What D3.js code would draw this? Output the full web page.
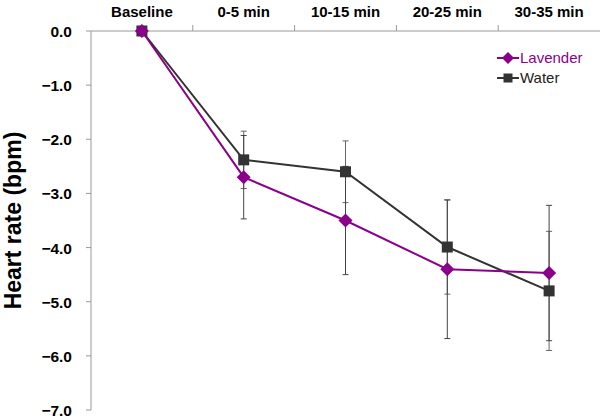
<!DOCTYPE html>
<html><head><meta charset="utf-8">
<script src="https://cdn.jsdelivr.net/npm/d3@7"></script>
<style>body{margin:0;background:#fff}text{font-family:Arial,"Liberation Sans",sans-serif}</style>
</head><body><svg id="c" width="600" height="420"></svg>
<script>
var categories = ["Baseline", "0-5 min", "10-15 min", "20-25 min", "30-35 min"];
var lavender = [0, -2.7, -3.5, -4.4, -4.47];
var lavenderErr = [0, 0.77, 1.0, 1.28, 1.25];
var water = [0, -2.38, -2.6, -3.99, -4.8];
var waterErr = [0, 0.53, 0.57, 0.87, 1.1];
var yTicks = [0, -1, -2, -3, -4, -5, -6, -7];

var svg = d3.select("#c");
var m = {left: 91, top: 31};
var x = d3.scaleBand().domain(categories).range([m.left, 600]);
var y = d3.scaleLinear().domain([-7, 0]).range([410, m.top]);

// top category axis
svg.append("line").attr("x1", m.left).attr("x2", 600).attr("y1", y(0)).attr("y2", y(0)).attr("stroke", "#999");
categories.forEach(function(c, i) {
  if (i > 0) svg.append("line").attr("x1", x(c)).attr("x2", x(c)).attr("y1", y(0) - 6).attr("y2", y(0)).attr("stroke", "#999");
  svg.append("text").attr("x", x(c) + x.bandwidth() / 2).attr("y", 17).attr("text-anchor", "middle")
    .attr("font-size", 15).attr("font-weight", "bold").text(c);
});

// left axis
svg.append("line").attr("x1", m.left).attr("x2", m.left).attr("y1", y(0)).attr("y2", 410).attr("stroke", "#999");
yTicks.forEach(function(t) {
  svg.append("line").attr("x1", m.left - 5).attr("x2", m.left).attr("y1", y(t)).attr("y2", y(t)).attr("stroke", "#999");
  svg.append("text").attr("x", 72).attr("y", y(t) + 6).attr("text-anchor", "end")
    .attr("font-size", 15.5).attr("font-weight", "bold").text(d3.format(".1f")(t));
});
svg.append("text").attr("transform", "translate(21," + (y(-3.5)) + ") rotate(-90)")
  .attr("text-anchor", "middle").attr("font-size", 23).attr("font-weight", "bold").text("Heart rate (bpm)");

var cx = function(i) { return x(categories[i]) + x.bandwidth() / 2; };

function errBars(vals, errs, col) {
  vals.forEach(function(v, i) {
    if (!errs[i]) return;
    var g = svg.append("g").attr("stroke", col).attr("stroke-width", 1);
    g.append("line").attr("x1", cx(i)).attr("x2", cx(i)).attr("y1", y(v + errs[i])).attr("y2", y(v - errs[i]));
    [v + errs[i], v - errs[i]].forEach(function(e) {
      g.append("line").attr("x1", cx(i) - 3).attr("x2", cx(i) + 3).attr("y1", y(e)).attr("y2", y(e));
    });
  });
}
errBars(water, waterErr, "#666");
errBars(lavender, lavenderErr, "#444");

var line = d3.line().x(function(d, i) { return cx(i); }).y(function(d) { return y(d); });
svg.append("path").datum(water).attr("d", line).attr("fill", "none").attr("stroke", "#333").attr("stroke-width", 2);
svg.append("path").datum(lavender).attr("d", line).attr("fill", "none").attr("stroke", "#8B008B").attr("stroke-width", 2);

function sqPath(s) { return "M" + -s + "," + -s + "H" + s + "V" + s + "H" + -s + "Z"; }
function diaPath(s) { return "M0," + -s + "L" + s + ",0L0," + s + "L" + -s + ",0Z"; }
svg.selectAll(".w").data(water).enter().append("path").attr("d", sqPath(5.5))
  .attr("transform", function(d, i) { return "translate(" + cx(i) + "," + y(d) + ")"; }).attr("fill", "#333");
svg.selectAll(".l").data(lavender).enter().append("path").attr("d", diaPath(7))
  .attr("transform", function(d, i) { return "translate(" + cx(i) + "," + y(d) + ")"; }).attr("fill", "#8B008B");

// legend
var leg = [["Lavender", "#8B008B", diaPath(6)], ["Water", "#333", sqPath(4.5)]];
leg.forEach(function(l, i) {
  var ly = 58 + i * 20;
  svg.append("line").attr("x1", 497).attr("x2", 519).attr("y1", ly).attr("y2", ly).attr("stroke", l[1]).attr("stroke-width", 2);
  svg.append("path").attr("d", l[2]).attr("transform", "translate(508," + ly + ")").attr("fill", l[1]);
  svg.append("text").attr("x", 520).attr("y", ly + 5).attr("font-size", 15).attr("fill", i === 0 ? "#8B008B" : "#222").text(l[0]);
});
</script></body></html>
